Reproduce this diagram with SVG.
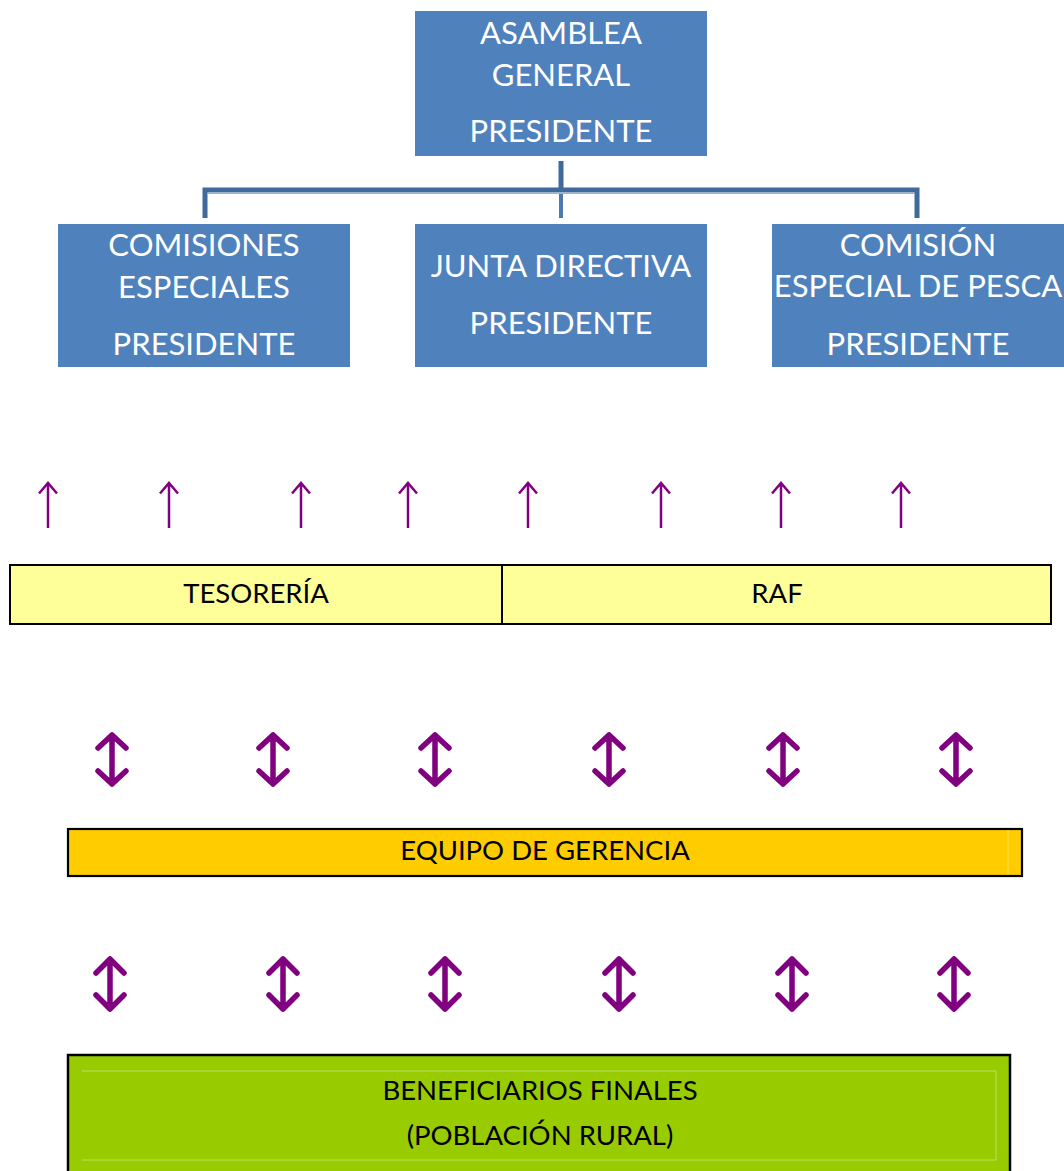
<svg xmlns="http://www.w3.org/2000/svg" width="1064" height="1171" viewBox="0 0 1064 1171">
<style>
.blue{fill:#4F81BD}
.wt{fill:#FFFFFF;font-family:Lato,"Open Sans",sans-serif;font-size:31px;text-anchor:middle}
.bt{fill:#000000;font-family:Lato,"Open Sans",sans-serif;font-size:27.5px;text-anchor:middle}
.up{fill:none;stroke:#800080;stroke-width:2.5}
.dbl{fill:none;stroke:#800080;stroke-width:5.5;stroke-linecap:round;stroke-linejoin:round}
.conn{fill:none;stroke:#3F6A9E;stroke-width:5;stroke-linejoin:miter}
</style>
<defs>
<path id="ua" d="M0,528 V483 M-9,493.5 L0,483 L9,493.5"/>
</defs>
<rect width="1064" height="1171" fill="#FFFFFF"/>

<g id="connectors">
<path class="conn" d="M561,161 V190"/>
<path class="conn" d="M205,218 V190 H917 V218"/>
<path d="M561,193 V218" stroke="#4F78AE" stroke-width="4" fill="none"/>
<path d="M208,193.5 H914" stroke="#9AB3D3" stroke-width="1.2" fill="none"/>
</g>

<g id="asamblea">
<rect class="blue" x="415" y="11" width="292" height="145"/>
<text class="wt" x="561" y="44">ASAMBLEA</text>
<text class="wt" x="561" y="86">GENERAL</text>
<text class="wt" x="561" y="142">PRESIDENTE</text>
</g>

<g id="comisiones">
<rect class="blue" x="58" y="224" width="292" height="143"/>
<text class="wt" x="204" y="256">COMISIONES</text>
<text class="wt" x="204" y="298">ESPECIALES</text>
<text class="wt" x="204" y="355">PRESIDENTE</text>
</g>

<g id="junta">
<rect class="blue" x="415" y="224" width="292" height="143"/>
<text class="wt" x="561" y="277">JUNTA DIRECTIVA</text>
<text class="wt" x="561" y="334">PRESIDENTE</text>
</g>

<g id="pesca">
<rect class="blue" x="772" y="224" width="292" height="143"/>
<text class="wt" x="918" y="256">COMISIÓN</text>
<text class="wt" x="918" y="297">ESPECIAL DE PESCA</text>
<text class="wt" x="918" y="355">PRESIDENTE</text>
</g>

<g id="up-arrows">
<use href="#ua" class="up" x="48"/>
<use href="#ua" class="up" x="169"/>
<use href="#ua" class="up" x="301"/>
<use href="#ua" class="up" x="408"/>
<use href="#ua" class="up" x="528"/>
<use href="#ua" class="up" x="661"/>
<use href="#ua" class="up" x="781"/>
<use href="#ua" class="up" x="901"/>
</g>

<g id="tesoreria">
<rect x="10" y="565" width="492" height="59" fill="#FFFF99" stroke="#000000" stroke-width="2"/>
<text class="bt" x="256" y="603">TESORERÍA</text>
</g>
<g id="raf">
<rect x="502" y="565" width="549" height="59" fill="#FFFF99" stroke="#000000" stroke-width="2"/>
<text class="bt" x="777" y="603">RAF</text>
</g>

<g id="double-arrows-1">
<path class="dbl" d="M112,735 V784 M98,748 L112,735 L126,748 M98,771 L112,784 L126,771"/>
<path class="dbl" d="M273,735 V784 M259,748 L273,735 L287,748 M259,771 L273,784 L287,771"/>
<path class="dbl" d="M435,735 V784 M421,748 L435,735 L449,748 M421,771 L435,784 L449,771"/>
<path class="dbl" d="M609,735 V784 M595,748 L609,735 L623,748 M595,771 L609,784 L623,771"/>
<path class="dbl" d="M783,735 V784 M769,748 L783,735 L797,748 M769,771 L783,784 L797,771"/>
<path class="dbl" d="M956,735 V784 M942,748 L956,735 L970,748 M942,771 L956,784 L970,771"/>
</g>

<g id="equipo">
<rect x="68" y="829" width="954" height="47" fill="#FFCC00" stroke="#000000" stroke-width="2.2"/>
<line x1="1008" y1="830" x2="1008" y2="875" stroke="#FFDD55" stroke-width="1"/>
<text class="bt" x="545" y="860">EQUIPO DE GERENCIA</text>
</g>

<g id="double-arrows-2">
<path class="dbl" d="M110,959 V1009 M96,973 L110,959 L124,973 M96,995 L110,1009 L124,995"/>
<path class="dbl" d="M283,959 V1009 M269,973 L283,959 L297,973 M269,995 L283,1009 L297,995"/>
<path class="dbl" d="M445,959 V1009 M431,973 L445,959 L459,973 M431,995 L445,1009 L459,995"/>
<path class="dbl" d="M619,959 V1009 M605,973 L619,959 L633,973 M605,995 L619,1009 L633,995"/>
<path class="dbl" d="M792,959 V1009 M778,973 L792,959 L806,973 M778,995 L792,1009 L806,995"/>
<path class="dbl" d="M954,959 V1009 M940,973 L954,959 L968,973 M940,995 L954,1009 L968,995"/>
</g>

<g id="beneficiarios">
<rect x="68" y="1055" width="942" height="130" fill="#99CC00" stroke="#000000" stroke-width="2.5"/>
<path d="M82,1071 H996 V1160 H82" fill="none" stroke="#BBDD66" stroke-width="1"/>
<text class="bt" x="540" y="1100">BENEFICIARIOS FINALES</text>
<text class="bt" x="540" y="1145">(POBLACIÓN RURAL)</text>
</g>
</svg>
